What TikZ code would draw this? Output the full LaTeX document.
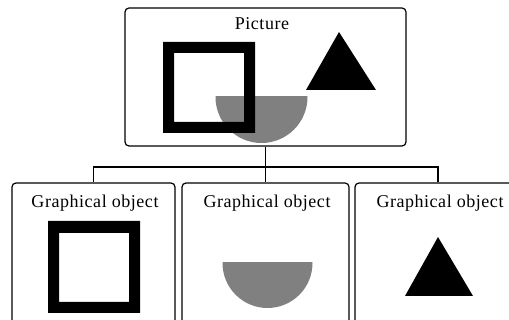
\documentclass[tikz,border=0pt]{standalone}
\usepackage{fontspec}
\setmainfont{Liberation Serif}
\newfontfamily\gfont[LetterSpace=3]{Liberation Serif}
\begin{document}
\begin{tikzpicture}[x=1pt,y=-1pt,
  box/.style={draw,line width=1.2pt,rounded corners=4pt,inner sep=0pt},
  lbl/.style={anchor=base,inner sep=0pt,font=\gfont\fontsize{18}{18}\selectfont},
  conn/.style={line width=1.2pt},
  bowl/.style={fill=black!50}]
\useasboundingbox (0,0) rectangle (509,320);
\clip (0,0) rectangle (509,320);
% boxes
\node[box,minimum width=281pt,minimum height=138pt] (top) at (265.5,77) {};
\node[box,minimum width=163pt,minimum height=147pt] (b1) at (93.5,256.5) {};
\node[box,minimum width=167pt,minimum height=147pt] (b2) at (265.5,256.5) {};
\node[box,minimum width=166pt,minimum height=147pt] (b3) at (438,256.5) {};
% labels
\node[lbl] (tp) at (262,30) {Picture};
\node[lbl] (l1) at (95,208) {Graphical object};
\node[lbl] (l2) at (267,208) {Graphical object};
\node[lbl] (l3) at (440,208) {Graphical object};
% connectors
\coordinate (j) at (265.5,167);
\draw[conn] (top.south) -- (j);
\draw[conn] (b1.north) |- (j);
\draw[conn] (b2.north) -- (j);
\draw[conn] (b3.north) |- (j);
% top picture contents
\begin{scope}
  \clip (214,97) rectangle (310,150);
  \fill[bowl] (261.5,97) circle[radius=46pt];
\end{scope}
\fill[even odd rule] (163,42) rectangle (255,133) (174,53) rectangle (244,122);
\fill (339,32) -- (306,90) -- (376,90) -- cycle;
% bottom contents
\fill[even odd rule] (48,221) rectangle (140,313) (59,233) rectangle (129,302);
\begin{scope}
  \clip (220,263) rectangle (316,320);
  \fill[bowl] (267.5,263) circle[radius=45pt];
\end{scope}
\fill (438,237) -- (405,296) -- (473,296) -- cycle;
\end{tikzpicture}
\end{document}
